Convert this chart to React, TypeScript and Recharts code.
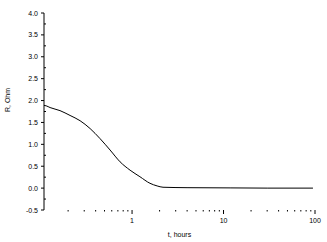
import React from 'react';
import { LineChart, Line, XAxis, YAxis } from 'recharts';

// t in hours (log axis), R in Ohm
const hours = [0.109, 0.115, 0.127, 0.163, 0.21, 0.27, 0.348, 0.447, 0.575, 0.74, 0.951, 1.22, 1.57, 1.88, 2.18, 3.99, 11.8, 30, 95];
const resistance = [1.89, 1.88, 1.84, 1.77, 1.66, 1.54, 1.36, 1.13, 0.87, 0.6, 0.41, 0.26, 0.11, 0.05, 0.02, 0.01, 0.005, 0.0, 0.0];

const xTicks = [0.2, 0.3, 0.4, 0.5, 0.6, 0.7, 0.8, 0.9, 1, 2, 3, 4, 5, 6, 7, 8, 9, 10, 20, 30, 40, 50, 60, 70, 80, 90, 100];
const xLabels = [1, 10, 100];
const yTicks = [-0.5, -0.25, 0, 0.25, 0.5, 0.75, 1, 1.25, 1.5, 1.75, 2, 2.25, 2.5, 2.75, 3, 3.25, 3.5, 3.75, 4];

const data = hours.map((t, i) => ({ t, r: resistance[i] }));

const FONT = '"Liberation Sans", Arial, sans-serif';

const XTick = (props: any) => {
  const { x, y, payload } = props;
  const major = xLabels.includes(payload.value);
  return (
    <g>
      <line x1={x} x2={x} y1={y} y2={y + (major ? 4 : 1.5)} stroke="#000" strokeWidth={1} />
      {major && (
        <text x={x} y={y + 12.5} textAnchor="middle" fontSize={7} fontFamily={FONT} fill="#000">
          {payload.value}
        </text>
      )}
    </g>
  );
};

const YTick = (props: any) => {
  const { x, y, payload } = props;
  const v = payload.value;
  const major = Math.abs(v * 2 - Math.round(v * 2)) < 1e-6;
  return (
    <g>
      {major ? (
        <line x1={x - 3} x2={x} y1={y} y2={y} stroke="#000" strokeWidth={1} />
      ) : (
        <line x1={x} x2={x + 2} y1={y} y2={y} stroke="#000" strokeWidth={1} />
      )}
      {major && (
        <text x={x - 6} y={y + 2.5} textAnchor="end" fontSize={7} fontFamily={FONT} fill="#000">
          {v.toFixed(1)}
        </text>
      )}
    </g>
  );
};

export default function App() {
  return (
    <div style={{ position: 'fixed', left: 0, top: 0, width: 327, height: 242, background: '#fff' }}>
      <LineChart width={327} height={242} data={data} margin={{ top: 13, right: 12, bottom: 0, left: 0 }}>
        <XAxis
          dataKey="t"
          type="number"
          scale="log"
          domain={[0.109, 100]}
          allowDataOverflow
          ticks={xTicks}
          interval={0}
          axisLine={false}
          tickLine={false}
          tickSize={0}
          tickMargin={0}
          tick={<XTick />}
          height={32}
          label={{ value: 't, hours', position: 'insideBottom', offset: 5, fontSize: 7, fontFamily: FONT, fill: '#000' }}
        />
        <YAxis
          type="number"
          domain={[-0.5, 4]}
          ticks={yTicks}
          interval={0}
          width={44}
          axisLine={{ stroke: '#000', strokeWidth: 1 }}
          tickLine={false}
          tickSize={0}
          tickMargin={0}
          tick={<YTick />}
          label={{
            content: () => (
              <text x={10} y={100} transform="rotate(-90 10 100)" textAnchor="middle" fontSize={7} fontFamily={FONT} fill="#000">
                R, Ohm
              </text>
            ),
          }}
        />
        <Line type="monotone" dataKey="r" stroke="#000" strokeWidth={1} dot={false} isAnimationActive={false} />
      </LineChart>
    </div>
  );
}
